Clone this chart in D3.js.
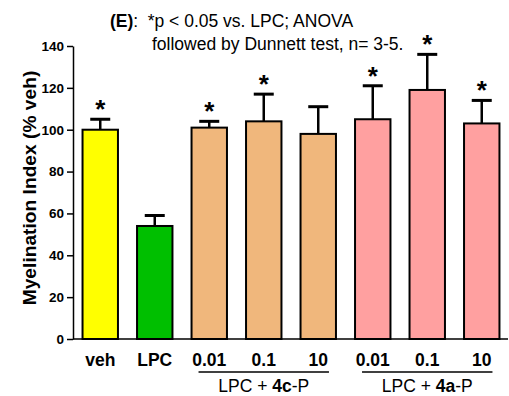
<!DOCTYPE html>
<html>
<head>
<meta charset="utf-8">
<script src="https://cdn.jsdelivr.net/npm/d3@7"></script>
<style>
  body { margin: 0; background: #fff; }
  svg { font-family: Arial, "Liberation Sans", sans-serif; }
</style>
</head>
<body>
<div id="chart"></div>
<script>

    // data
    const groups = ["veh", "LPC", "4c-0.01", "4c-0.1", "4c-10", "4a-0.01", "4a-0.1", "4a-10"];
    const tickLabels = ["veh", "LPC", "0.01", "0.1", "10", "0.01", "0.1", "10"];
    const means = [100, 54, 101, 104, 98, 105, 119, 103];
    const sems = [5, 5, 3, 13, 13, 16, 17, 11];
    const signif = [true, false, true, true, false, true, true, true];
    const colors = ["#ffff00", "#00bf00", "#f0b77c", "#ffa0a0"];
    const colorIdx = [0, 1, 2, 2, 2, 3, 3, 3];
    const yTicks = [0, 20, 40, 60, 80, 100, 120, 140];

    const width = 509, height = 396;
    const svg = d3.select("#chart").append("svg")
        .attr("width", width).attr("height", height);

    const x = d3.scaleBand().domain(groups).range([73, 509]).paddingInner(0.35).paddingOuter(0.175);
    const y = d3.scaleLinear().domain([0, 140]).range([339, 46]);
    const cx = d => x(d) + x.bandwidth() / 2;

    // bars
    svg.selectAll(".bar").data(groups).enter().append("rect")
        .attr("class", "bar")
        .attr("x", d => x(d))
        .attr("y", (d, i) => y(means[i]))
        .attr("width", x.bandwidth())
        .attr("height", (d, i) => y(0) - y(means[i]))
        .attr("fill", (d, i) => colors[colorIdx[i]])
        .attr("stroke", "#000").attr("stroke-width", 2);

    // error bars (upper only)
    const err = svg.selectAll(".err").data(groups).enter().append("g").attr("class", "err");
    err.append("line")
        .attr("x1", cx).attr("x2", cx)
        .attr("y1", (d, i) => y(means[i])).attr("y2", (d, i) => y(means[i] + sems[i]))
        .attr("stroke", "#000").attr("stroke-width", 2.5);
    err.append("line")
        .attr("x1", d => cx(d) - 10).attr("x2", d => cx(d) + 10)
        .attr("y1", (d, i) => y(means[i] + sems[i])).attr("y2", (d, i) => y(means[i] + sems[i]))
        .attr("stroke", "#000").attr("stroke-width", 3);

    // asterisks
    svg.selectAll(".star").data(groups.filter((d, i) => signif[i])).enter().append("text")
        .attr("x", cx)
        .attr("y", d => { const i = groups.indexOf(d); return y(means[i] + sems[i]) - 1; })
        .attr("text-anchor", "middle")
        .attr("font-size", 26).attr("font-weight", "bold")
        .text("*");

    // y axis
    const yAxis = svg.append("g").attr("transform", "translate(73,0)")
        .call(d3.axisLeft(y).tickValues(yTicks).tickSize(6).tickPadding(3).tickSizeOuter(0));
    yAxis.select(".domain").attr("stroke-width", 1.5);
    yAxis.selectAll(".tick line").attr("stroke-width", 1.5);
    yAxis.selectAll("text").attr("font-size", 13.5).attr("font-weight", "bold")
        .attr("font-family", "Arial, 'Liberation Sans', sans-serif").attr("fill", "#000");

    // x baseline
    svg.append("line").attr("x1", 73).attr("x2", 508).attr("y1", y(0)).attr("y2", y(0))
        .attr("stroke", "#000").attr("stroke-width", 1.5);

    // x labels
    svg.selectAll(".xl").data(groups).enter().append("text")
        .attr("x", cx).attr("y", 366)
        .attr("text-anchor", "middle").attr("font-size", 17.5).attr("font-weight", "bold")
        .text((d, i) => tickLabels[i]);

    // group brackets
    const brackets = [["4c-0.01", "4c-10", "4c"], ["4a-0.01", "4a-10", "4a"]];
    brackets.forEach(b => {
        const x1 = x(b[0]) + 7, x2 = x(b[1]) + x.bandwidth() - 7;
        svg.append("line").attr("x1", x1).attr("x2", x2).attr("y1", 372).attr("y2", 372)
            .attr("stroke", "#000").attr("stroke-width", 1.5);
        const t = svg.append("text").attr("x", (x1 + x2) / 2).attr("y", 391.5)
            .attr("text-anchor", "middle").attr("font-size", 17.5);
        t.append("tspan").text("LPC + ");
        t.append("tspan").attr("font-weight", "bold").text(b[2]);
        t.append("tspan").text("-P");
    });

    // y axis title
    svg.append("text")
        .attr("transform", "translate(36,188) rotate(-90)")
        .attr("text-anchor", "middle").attr("font-size", 19.2).attr("font-weight", "bold")
        .text("Myelination Index (% veh)");

    // note at top
    const note = svg.append("text").attr("x", 110).attr("y", 27).attr("font-size", 17.5);
    note.append("tspan").attr("font-weight", "bold").text("(E)");
    note.append("tspan").text(":");
    note.append("tspan").attr("x", 147.7).text("*p < 0.05 vs. LPC; ANOVA");
    svg.append("text").attr("x", 152).attr("y", 50).attr("font-size", 17.5)
        .text("followed by Dunnett test, n= 3-5.");

</script>
</body>
</html>
